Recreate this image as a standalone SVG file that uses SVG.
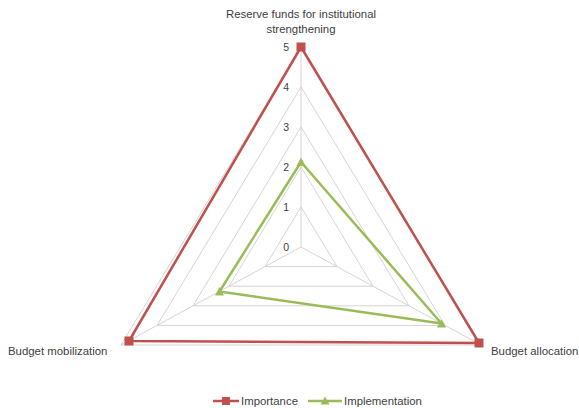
<svg xmlns="http://www.w3.org/2000/svg" width="579" height="408" viewBox="0 0 579 408">
<defs>
<style>
text{font-family:"Liberation Sans",Arial,sans-serif;fill:#404040;}
.lab{font-size:11.4px;}
.tick{font-size:10.5px;text-anchor:end;}
.grid{fill:none;stroke:#d4d4d4;stroke-width:1;}
.imp{fill:none;stroke:#c0504d;stroke-width:2.5;stroke-linejoin:round;}
.impl{fill:none;stroke:#9bbb59;stroke-width:2.5;stroke-linejoin:round;}
</style>
<marker id="sq" viewBox="0 0 10 10" refX="5" refY="5" markerWidth="10" markerHeight="10" markerUnits="userSpaceOnUse"><rect x="0.5" y="0.5" width="9" height="9" fill="#c0504d"/></marker>
<marker id="tri" viewBox="0 0 10 10" refX="5" refY="5" markerWidth="10" markerHeight="10" markerUnits="userSpaceOnUse"><polygon points="5,0.5 9.5,9 0.5,9" fill="#9bbb59"/></marker>
</defs>
<rect width="579" height="408" fill="#ffffff"/>
<g id="grid">
<polygon class="grid" points="301,207 337,266.6 265,266.6"/>
<polygon class="grid" points="301,167 373,286.2 229,286.2"/>
<polygon class="grid" points="301,127 409,305.8 193,305.8"/>
<polygon class="grid" points="301,87 445,325.4 157,325.4"/>
<polygon class="grid" points="301,47 481,345 121,345"/>
<line class="grid" x1="301" y1="247" x2="301" y2="47"/>
<line class="grid" x1="301" y1="247" x2="481" y2="345"/>
<line class="grid" x1="301" y1="247" x2="121" y2="345"/>
</g>
<g id="ticks">
<text class="tick" x="289" y="251">0</text>
<text class="tick" x="289" y="211">1</text>
<text class="tick" x="289" y="171">2</text>
<text class="tick" x="289" y="131">3</text>
<text class="tick" x="289" y="91">4</text>
<text class="tick" x="289" y="51">5</text>
</g>
<g id="connectors">
<polygon id="importance" class="imp" points="301,47 479,343 129,341" marker-start="url(#sq)" marker-mid="url(#sq)"/>
<polygon id="implementation" class="impl" points="301,162 441.5,323.5 219.5,291.5" marker-start="url(#tri)" marker-mid="url(#tri)"/>
</g>
<g id="node-top"><text class="lab" x="301" y="18" text-anchor="middle">Reserve funds for institutional</text><text class="lab" x="301" y="33" text-anchor="middle">strengthening</text></g>
<g id="node-left"><text class="lab" x="8" y="355">Budget mobilization</text></g>
<g id="node-right"><text class="lab" x="491" y="355">Budget allocation</text></g>
<g id="legend">
<line x1="213" y1="401" x2="239" y2="401" stroke="#c0504d" stroke-width="2.5"/>
<rect x="222" y="397" width="8" height="8" fill="#c0504d"/>
<text class="lab" x="241" y="405">Importance</text>
<line x1="308" y1="401" x2="342" y2="401" stroke="#9bbb59" stroke-width="2.5"/>
<polygon points="325,396.5 329.5,404.5 320.5,404.5" fill="#9bbb59"/>
<text class="lab" x="344" y="405">Implementation</text>
</g>
</svg>
